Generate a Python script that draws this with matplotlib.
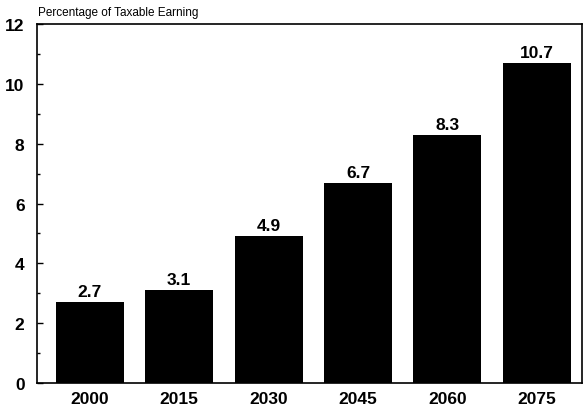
import numpy as np
import matplotlib
matplotlib.use('Agg')
import matplotlib.pyplot as plt
from matplotlib.ticker import MultipleLocator

years = ['2000', '2015', '2030', '2045', '2060', '2075']
pct = [2.7, 3.1, 4.9, 6.7, 8.3, 10.7]
value_labels = ['2.7', '3.1', '4.9', '6.7', '8.3', '10.7']

plt.rcParams['font.family'] = ['Liberation Sans', 'DejaVu Sans']

fig = plt.figure(figsize=(5.83, 4.14), dpi=100)
ax = fig.add_axes([0.0635, 0.0725, 0.934, 0.867])

x = np.arange(len(years))
bars = ax.bar(x, pct, width=0.76, color='black')

# value labels on top of the bars
for xi, v, lab in zip(x, pct, value_labels):
    ax.text(xi, v + 0.1, lab, ha='center', va='bottom',
            fontsize=12.5, fontweight='bold')

ax.set_xlim(-0.59, 5.5)
ax.set_ylim(0, 12)
ax.set_xticks(x)
ax.set_xticklabels(years, fontsize=12.5, fontweight='bold')
ax.yaxis.set_major_locator(MultipleLocator(2))
ax.yaxis.set_minor_locator(MultipleLocator(1))
for lab in ax.get_yticklabels():
    lab.set_fontsize(12.5)
    lab.set_fontweight('bold')
ax.tick_params(axis='y', which='major', direction='in', length=4, width=1)
ax.tick_params(axis='y', which='minor', direction='in', length=2, width=1)
ax.tick_params(axis='x', length=0, pad=6)
ax.tick_params(axis='y', pad=9)

for s in ax.spines.values():
    s.set_linewidth(1.2)

fig.text(0.065, 0.969, 'Percentage of Taxable Earning', fontsize=8.5, ha='left', va='center')

fig.savefig('out.png', dpi=100)
